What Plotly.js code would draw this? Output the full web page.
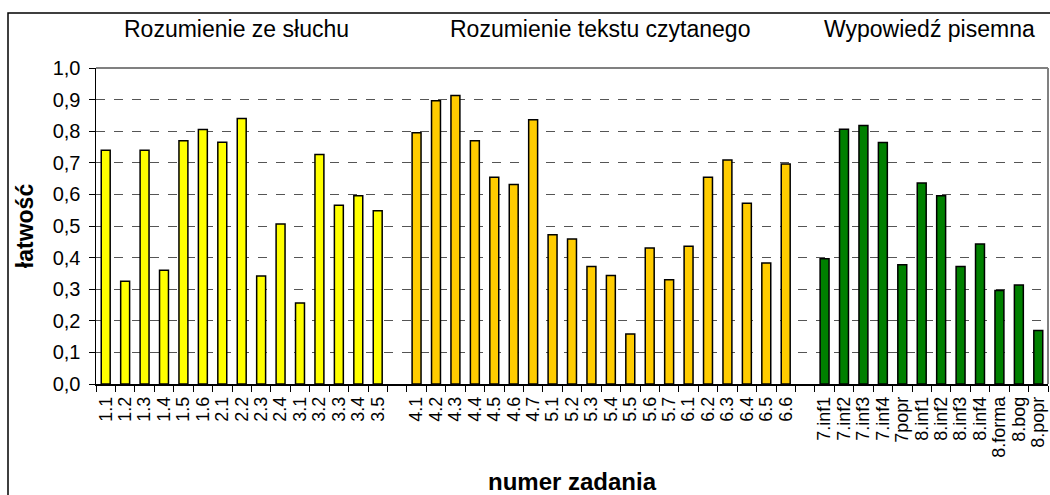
<!DOCTYPE html>
<html>
<head>
<meta charset="utf-8">
<script src="https://cdn.plot.ly/plotly-3.0.1.min.js"></script>
<style>html,body{margin:0;padding:0;background:#fff;}#chart{width:1050px;height:495px;}</style>
</head>
<body>
<div id="chart"></div>
<script>
// ---- data ----
const groupTitles = ['Rozumienie ze słuchu', 'Rozumienie tekstu czytanego', 'Wypowiedź pisemna'];

const cats1 = ['1.1','1.2','1.3','1.4','1.5','1.6','2.1','2.2','2.3','2.4','3.1','3.2','3.3','3.4','3.5'];
const vals1 = [0.74,0.325,0.74,0.36,0.77,0.805,0.765,0.84,0.342,0.506,0.256,0.726,0.566,0.596,0.548];

const cats2 = ['4.1','4.2','4.3','4.4','4.5','4.6','4.7','5.1','5.2','5.3','5.4','5.5','5.6','5.7','6.1','6.2','6.3','6.4','6.5','6.6'];
const vals2 = [0.795,0.896,0.913,0.77,0.654,0.631,0.836,0.472,0.459,0.372,0.343,0.158,0.43,0.33,0.436,0.654,0.709,0.572,0.383,0.696];

const cats3 = ['7.inf1','7.inf2','7.inf3','7.inf4','7popr','8.inf1','8.inf2','8.inf3','8.inf4','8.forma','8.bog','8.popr'];
const vals3 = [0.396,0.806,0.818,0.764,0.377,0.636,0.596,0.372,0.443,0.296,0.313,0.169];

const gapA = ' ';
const gapB = '  ';

const yTitle = 'łatwość';
const xTitle = 'numer zadania';

// ---- chart ----
const FONT = 'Liberation Sans, Arial, sans-serif';
const allCats = cats1.concat([gapA], cats2, [gapB], cats3);

function barTrace(cats, vals, color) {
  return {
    type: 'bar', x: cats, y: vals,
    marker: {color: color, line: {color: '#000000', width: 1.5}},
    hoverinfo: 'x+y', showlegend: false
  };
}

const data = [
  barTrace(cats1, vals1, '#FFFF00'),
  barTrace(cats2, vals2, '#FFCC00'),
  barTrace(cats3, vals3, '#008000')
];

const L = 96, R = 1048, T = 68, B = 384;
const W = R - L, H = B - T;
function px(x) { return (x - L) / W; }
function py(y) { return (B - y) / H; }

const layout = {
  width: 1050, height: 495,
  margin: {l: L, r: 1050 - R, t: T, b: 495 - B, pad: 0},
  paper_bgcolor: '#ffffff', plot_bgcolor: '#ffffff',
  separators: ',.',
  font: {family: FONT, color: '#000000', size: 17},
  bargap: 0.54,
  xaxis: {
    type: 'category', categoryorder: 'array', categoryarray: allCats,
    tickmode: 'array', tickvals: allCats, ticktext: allCats,
    range: [-0.5, allCats.length - 0.5],
    tickson: 'boundaries', ticks: 'outside', ticklen: 6, tickcolor: '#000', tickwidth: 1,
    showline: true, linecolor: '#000', linewidth: 1.5,
    showgrid: false, tickangle: -90, tickfont: {size: 18, family: FONT}, ticklabelstandoff: 4,
    title: {text: xTitle, font: {size: 24, family: FONT, weight: 'bold'}, standoff: 22},
    automargin: false, fixedrange: true
  },
  yaxis: {
    range: [0, 1], dtick: 0.1, tick0: 0, tickformat: '.1f',
    ticks: 'outside', ticklen: 6, tickcolor: '#000', tickwidth: 1,
    showline: true, linecolor: '#000', linewidth: 1.5,
    showgrid: true, gridcolor: '#555555', gridwidth: 1, griddash: 'dash',
    zeroline: false, tickfont: {size: 20, family: FONT}, ticklabelstandoff: 4,
    title: {text: yTitle, font: {size: 23, family: FONT, weight: 'bold'}, standoff: 12},
    automargin: false, fixedrange: true
  },
  shapes: [
    {type: 'line', xref: 'paper', yref: 'paper', x0: 0, x1: 1, y0: 1, y1: 1, line: {color: '#808080', width: 2}},
    {type: 'line', xref: 'paper', yref: 'paper', x0: 1, x1: 1, y0: 0, y1: 1, line: {color: '#808080', width: 2}},
    {type: 'rect', xref: 'paper', yref: 'paper', x0: px(8), x1: px(1060), y0: py(505), y1: py(13), line: {color: '#000', width: 1.5}, layer: 'below'}
  ],
  annotations: [
    {text: groupTitles[0], xref: 'paper', yref: 'paper', x: px(236), y: py(29), showarrow: false, xanchor: 'center', yanchor: 'middle', font: {size: 23, family: FONT}},
    {text: groupTitles[1], xref: 'paper', yref: 'paper', x: px(600), y: py(29), showarrow: false, xanchor: 'center', yanchor: 'middle', font: {size: 23, family: FONT}},
    {text: groupTitles[2], xref: 'paper', yref: 'paper', x: px(929), y: py(29), showarrow: false, xanchor: 'center', yanchor: 'middle', font: {size: 23, family: FONT}}
  ]
};

Plotly.newPlot('chart', data, layout, {staticPlot: true, displayModeBar: false});
</script>
</body>
</html>
